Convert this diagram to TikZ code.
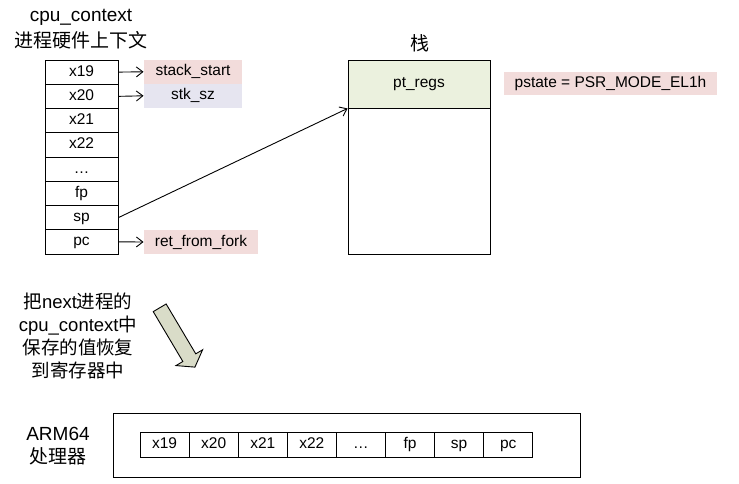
\documentclass[tikz,border=0pt]{standalone}
\usepackage{fontspec}
\setmainfont{Liberation Sans}
\newfontfamily\cjk{Noto Sans CJK SC}
\usetikzlibrary{arrows.meta}
\definecolor{labelpink}{RGB}{242,220,219}
\definecolor{labellilac}{RGB}{230,229,240}
\definecolor{regsgreen}{RGB}{235,241,222}
\definecolor{arrowfill}{RGB}{217,220,200}
\begin{document}
\begin{tikzpicture}[>={Straight Barb[length=6.5pt,width=10pt]},x=1pt,y=-1pt,line width=0.9pt]
	\tikzstyle{big}=[font=\fontsize{19}{23}\selectfont]
	\tikzstyle{small}=[font=\fontsize{15.5}{18}\selectfont,text height=11pt,text depth=3pt]
	\tikzstyle{reg}=[small,draw,rectangle,inner sep=0pt,minimum width=73pt,minimum height=24.25pt]
	\tikzstyle{cell}=[small,draw,rectangle,inner sep=0pt,minimum width=49.1pt,minimum height=25pt]
	\tikzstyle{tag}=[small,rectangle,inner sep=0pt,minimum height=23.5pt]
	\useasboundingbox (0,0) rectangle (739,484);

	\node[big] (ctxname) at (81,17) {cpu\_context};
	\node[big] (ctxdesc) at (81,40) {\cjk 进程硬件上下文};
	\foreach \r [count=\i] in {x19,x20,x21,x22,\ldots,fp,sp,pc}
		\node[reg] (reg\i) at (81.5,{72.1+24.25*(\i-1)}) {\r};

	\node[tag,fill=labelpink,minimum width=98pt] (stackstart) at (193,71.8) {stack\_start};
	\node[tag,fill=labellilac,minimum width=98pt] (stksz) at (193,95.8) {stk\_sz};
	\node[tag,fill=labelpink,minimum width=114pt] (retfromfork) at (201,242) {ret\_from\_fork};

	\node[big] (stacklabel) at (420,43) {\cjk 栈};
	\node[small,draw,fill=regsgreen,minimum width=142pt,minimum height=48pt] (ptregs) at (419,84) {pt\_regs};
	\node[draw,minimum width=142pt,minimum height=146pt] (stackbody) at (419,181) {};
	\node[tag,fill=labelpink,minimum width=213pt] (pstate) at (610.5,83.5) {pstate = PSR\_MODE\_EL1h};

	\path (reg1.east) edge[->] (stackstart.west);
	\path (reg2.east) edge[->] (stksz.west);
	\path (reg8.east) edge[->] (retfromfork.west);
	\path (reg7.east) edge[->] (ptregs.south west);

	\node[big,align=center,font=\fontsize{18.5}{22.8}\selectfont] (restore) at (78,336)
		{{\cjk 把}next{\cjk 进程的}\\cpu\_context{\cjk 中}\\{\cjk 保存的值恢复}\\{\cjk 到寄存器中}};
	\begin{scope}[shift={(159.7,307.8)},rotate=-59.3]
		\draw[fill=arrowfill] (0,-7.5) -- (58,-7.5) -- (58,-15.5) -- (69,0) -- (58,15.5) -- (58,7.5) -- (0,7.5) -- cycle;
	\end{scope}

	\node[big,align=center] (armlabel) at (58,446.5) {ARM64\\{\cjk 处理器}};
	\node[draw,minimum width=467pt,minimum height=64pt] (armcpu) at (346.5,445) {};
	\foreach \r [count=\i] in {x19,x20,x21,x22,\ldots,fp,sp,pc}
		\node[cell] (arm\i) at ({140+49.1*(\i-0.5)},444.5) {\r};
\end{tikzpicture}
\end{document}
